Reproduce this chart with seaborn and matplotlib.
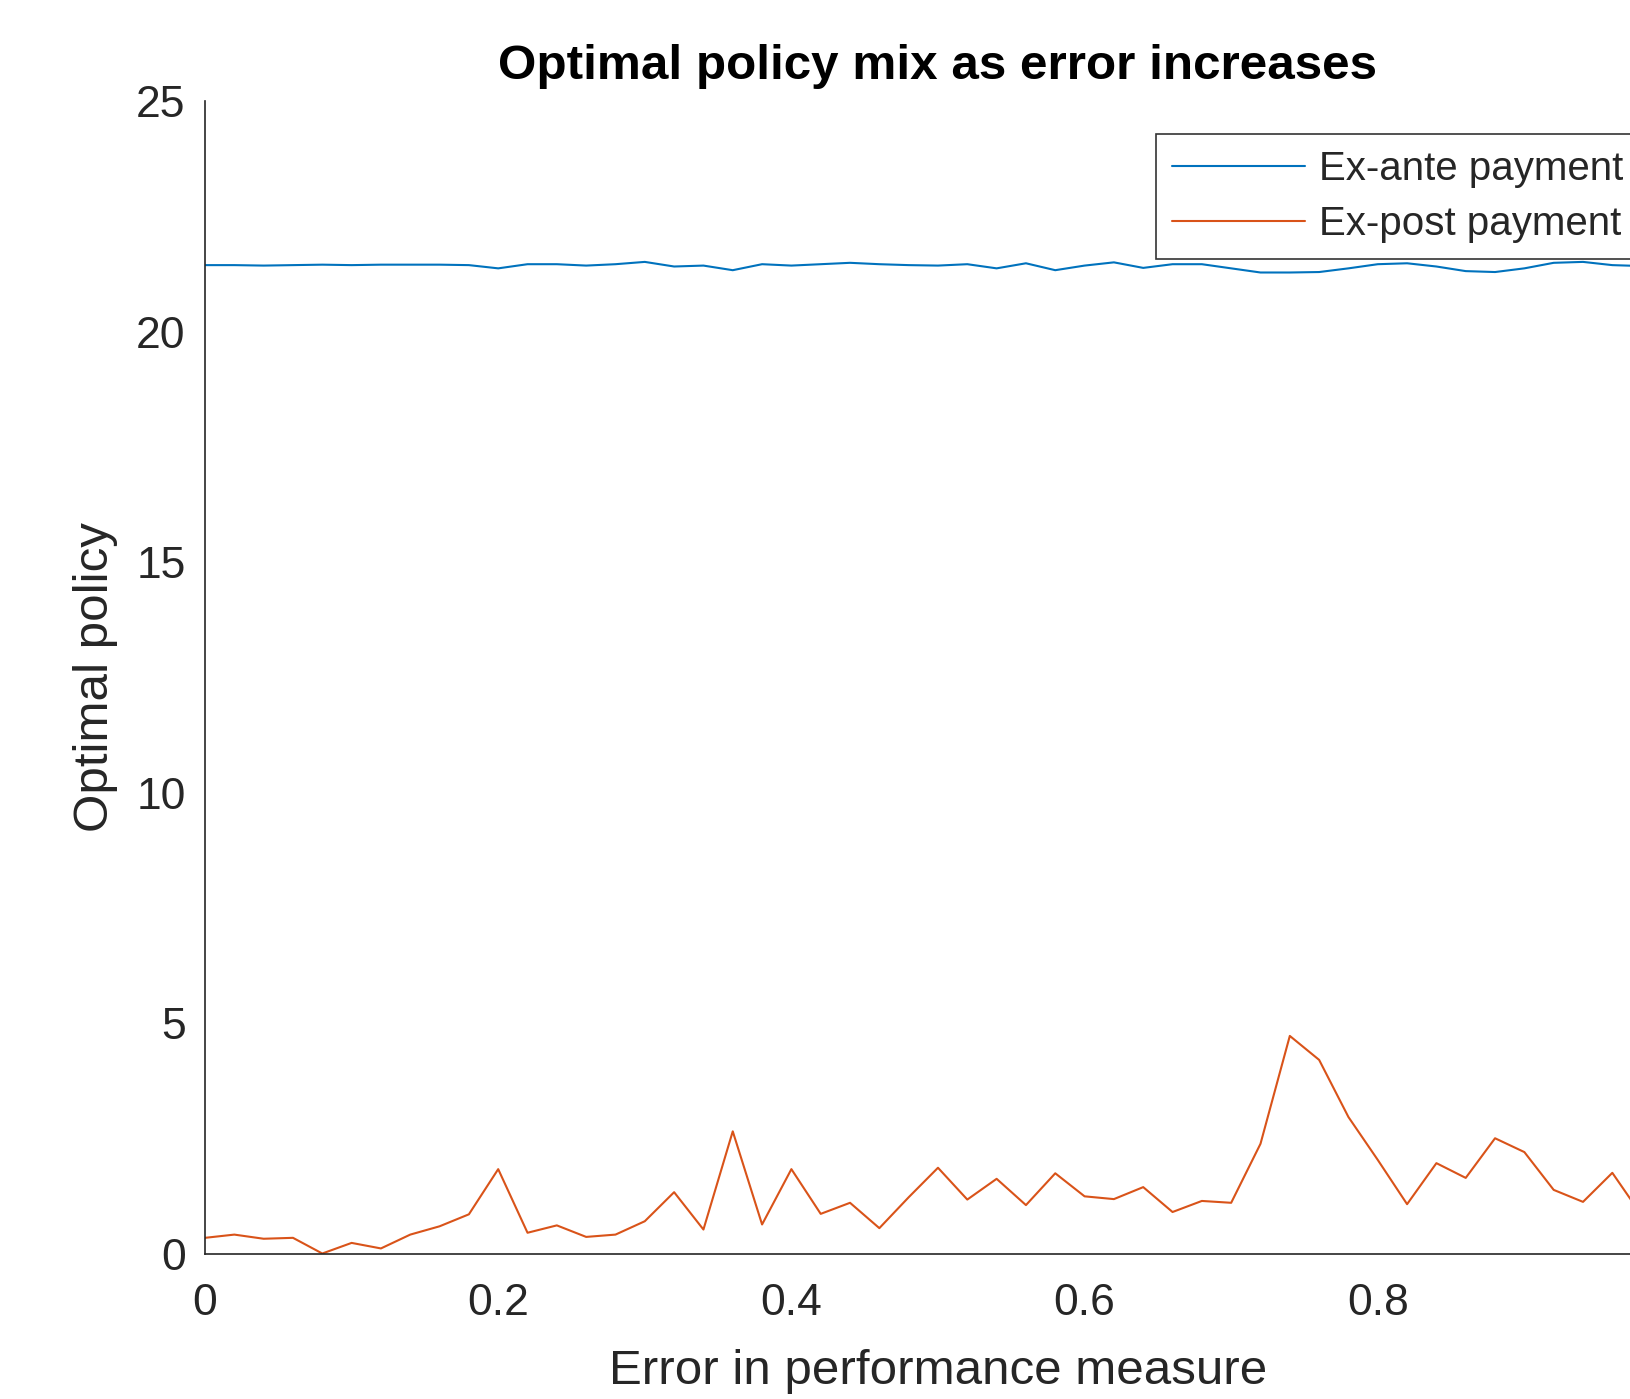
import matplotlib
matplotlib.use('Agg')
import matplotlib.pyplot as plt
import matplotlib.ticker as mticker
import numpy as np
import pandas as pd
import seaborn as sns

# ---------------------------------------------------------------------------
# Dados (passo de 0.02 no erro)
# ---------------------------------------------------------------------------
erro = [0.00, 0.02, 0.04, 0.06, 0.08, 0.10, 0.12, 0.14, 0.16, 0.18,
        0.20, 0.22, 0.24, 0.26, 0.28, 0.30, 0.32, 0.34, 0.36, 0.38,
        0.40, 0.42, 0.44, 0.46, 0.48, 0.50, 0.52, 0.54, 0.56, 0.58,
        0.60, 0.62, 0.64, 0.66, 0.68, 0.70, 0.72, 0.74, 0.76, 0.78,
        0.80, 0.82, 0.84, 0.86, 0.88, 0.90, 0.92, 0.94, 0.96, 0.98,
        1.00]

ex_ante = [21.44, 21.44, 21.43, 21.44, 21.45, 21.44, 21.45, 21.45, 21.45, 21.44,
           21.37, 21.46, 21.46, 21.43, 21.46, 21.51, 21.41, 21.43, 21.33, 21.46,
           21.43, 21.46, 21.49, 21.46, 21.44, 21.43, 21.46, 21.37, 21.48, 21.33,
           21.43, 21.50, 21.38, 21.46, 21.46, 21.37, 21.28, 21.28, 21.29, 21.37,
           21.46, 21.48, 21.41, 21.31, 21.29, 21.37, 21.49, 21.51, 21.44, 21.42,
           21.45]

ex_post = [0.34, 0.41, 0.32, 0.34, 0.00, 0.23, 0.11, 0.41, 0.59, 0.85,
           1.83, 0.45, 0.61, 0.36, 0.41, 0.70, 1.33, 0.52, 2.65, 0.63,
           1.83, 0.86, 1.10, 0.55, 1.22, 1.86, 1.17, 1.62, 1.05, 1.74,
           1.24, 1.18, 1.44, 0.90, 1.14, 1.10, 2.38, 4.72, 4.20, 2.96,
           2.03, 1.07, 1.96, 1.64, 2.50, 2.20, 1.38, 1.12, 1.75, 0.83,
           1.20]

series_labels = ['Ex-ante payment', 'Ex-post payment']
cores = ['#0072BD', '#D95319']
# o tick de 1.0 fica fora da imagem (original cortado à direita)
x_ticks = [0, 0.2, 0.4, 0.6, 0.8]
y_ticks = [0, 5, 10, 15, 20, 25]

# ---------------------------------------------------------------------------
# Estilo
# ---------------------------------------------------------------------------
sns.set_theme(style='white')
plt.rcParams['font.family'] = ['Liberation Sans', 'DejaVu Sans']
EIXO = '#262626'

fig = plt.figure(figsize=(16.31, 13.99), dpi=100)
# eixo vai além da borda direita
ax = fig.add_axes([0.1257, 0.104, 0.8988, 0.8238])

for y, lab, cor in zip([ex_ante, ex_post], series_labels, cores):
    sns.lineplot(x=erro, y=y, ax=ax, color=cor, linewidth=1.5, label=lab)

ax.set_xlim(0, 1)
ax.set_ylim(0, 25)
ax.set_xticks(x_ticks)
ax.set_yticks(y_ticks)
ax.xaxis.set_major_formatter(mticker.FuncFormatter(lambda v, p: f'{v:g}'))

for s in ['top', 'right']:
    ax.spines[s].set_visible(False)
for s in ['left', 'bottom']:
    ax.spines[s].set_color(EIXO)
    ax.spines[s].set_linewidth(1.2)

ax.tick_params(axis='both', direction='in', length=10, width=1.2,
               colors=EIXO, labelsize=32)
ax.tick_params(axis='x', pad=21)
ax.tick_params(axis='y', pad=14)

ax.set_xlabel('Error in performance measure', fontsize=35.5, color=EIXO, labelpad=18)
ax.set_ylabel('Optimal policy', fontsize=35.5, color=EIXO, labelpad=13)
ax.set_title('Optimal policy mix as error increases', fontsize=35.6,
             fontweight='bold', color='black', pad=16)

leg = ax.legend(loc='upper left', bbox_to_anchor=(0.6487, 0.9714),
                borderaxespad=0, fontsize=29, frameon=True, fancybox=False,
                handlelength=3.3, handletextpad=0.35, borderpad=0.4,
                labelspacing=0.42)
leg.get_frame().set_edgecolor('black')
leg.get_frame().set_linewidth(1.2)
for t in leg.get_texts():
    t.set_color(EIXO)

fig.savefig('out.png', dpi=100)
plt.close(fig)
